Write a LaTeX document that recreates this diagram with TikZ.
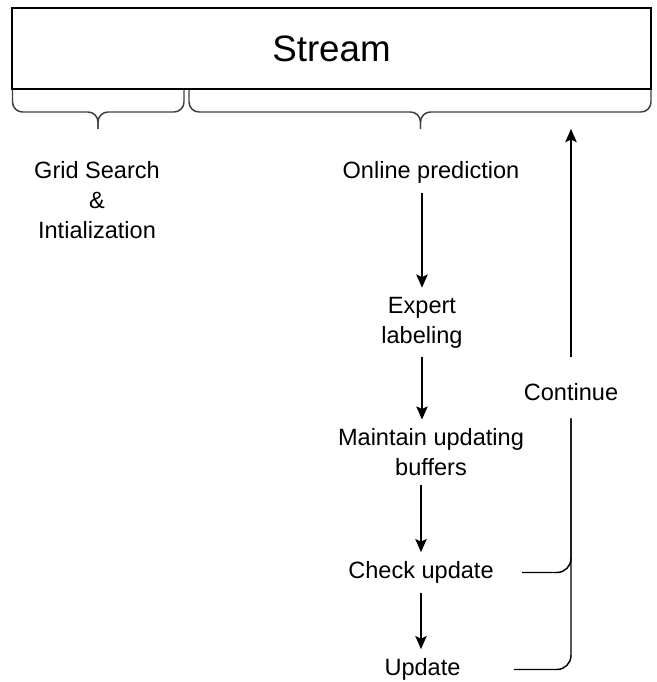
\documentclass[tikz,border=0pt]{standalone}
\usepackage{fontspec}
\setmainfont{Liberation Sans}
\usepackage{tikz}
\usetikzlibrary{calc,arrows.meta,positioning}
\tikzstyle{txt}=[font=\fontsize{13.4}{17}\selectfont,align=center,inner xsep=0.12cm,inner ysep=0.18cm]
\tikzstyle{every edge}=[-{Stealth[length=7.5pt,width=6.5pt,inset=1.5pt]},shorten >=0pt,line width=0.85pt,draw]

\begin{document}
\begin{tikzpicture}
        \useasboundingbox (0,0) rectangle (13.14,13.64);
        \tikzstyle{brc}=[draw=black!75,line width=0.85pt,rounded corners=0.2cm]
        \tikzstyle{link}=[-,line width=0.85pt,rounded corners=0.28cm]
        % Stream box:
        \node (stream) [draw,line width=0.9pt,minimum width=12.78cm,minimum height=1.62cm,
        font=\fontsize{20.9}{25}\selectfont] at (6.63,12.67) {Stream};
        % Braces under the stream:
        \coordinate (ltip) at (1.96,11.06);
        \coordinate (rtip) at (8.41,11.06);
        \draw[brc] (0.25,11.84) -- (0.25,11.40) -- (1.96,11.40) -- (ltip);
        \draw[brc] (3.68,11.84) -- (3.68,11.40) -- (1.96,11.40) -- (ltip);
        \draw[brc] (3.78,11.84) -- (3.78,11.40) -- (8.41,11.40) -- (rtip);
        \draw[brc] (13.02,11.84) -- (13.02,11.40) -- (8.41,11.40) -- (rtip);
        % Left column:
        \node (grid) [txt] at (1.94,9.64) {Grid Search\\\&\\Intialization};
        % Middle column:
        \node (online) [txt] at (8.62,10.19) {Online prediction};
        \node (expert) [txt] at (8.44,7.19) {Expert\\labeling};
        \node (maintain) [txt] at (8.62,4.59) {Maintain updating\\buffers};
        \node (check) [txt] at (8.42,2.19) {Check update};
        \node (update) [txt] at (8.45,0.25) {Update};
        % Right column:
        \node (continue) [txt] at (11.42,5.80) {Continue};

        \path
        (online.south -| expert) edge (expert.north)
        (expert) edge (expert |- maintain.north)
        (maintain.south -| check) edge (check.north)
        (check) edge (check |- update.north);

        \path
        (continue.north) edge[shorten <=0.34cm] (continue.north |- rtip);

        \draw[link,shorten <=0.44cm,shorten >=0.17cm] (check.east) -| (continue.south);
        \draw[link,shorten <=0.94cm,shorten >=0.17cm] (update.east) -| (continue.south);
      \end{tikzpicture}
\end{document}
